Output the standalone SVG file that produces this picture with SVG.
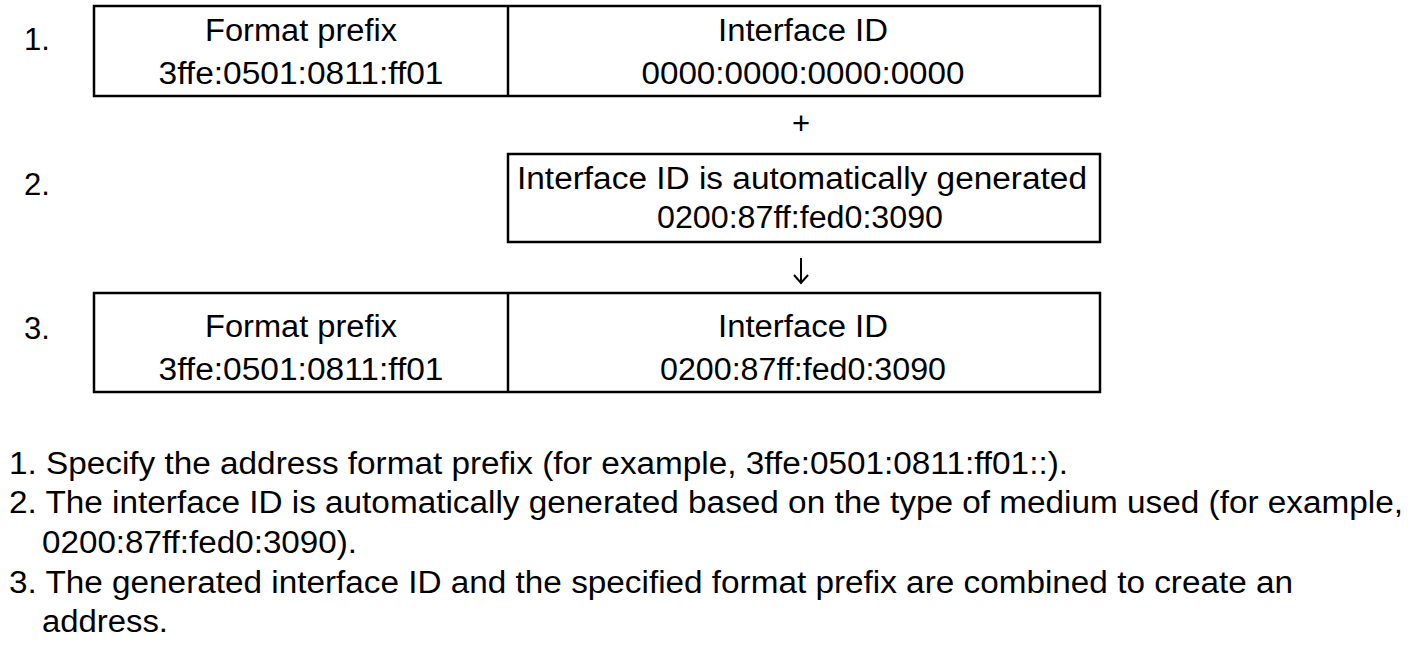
<svg xmlns="http://www.w3.org/2000/svg" width="1416" height="650" viewBox="0 0 1416 650">
<style>
.t{font-family:"Liberation Sans",Arial,sans-serif;font-size:31px;fill:#000}
.c{text-anchor:middle}
.b{fill:#fff;stroke:#000;stroke-width:2.5}
.d{stroke:#000;stroke-width:2.5}
.a{fill:none;stroke:#000;stroke-width:2}
</style>
<rect width="1416" height="650" fill="#fff"/>
<g id="step-labels">
<text class="t" x="24" y="50">1.</text>
<text class="t" x="24" y="195">2.</text>
<text class="t" x="24" y="339">3.</text>
</g>
<g id="row1">
<rect class="b" x="94" y="6" width="1006" height="90"/>
<line class="d" x1="508" y1="6" x2="508" y2="96"/>
<text class="t c" x="301" y="41" textLength="192" lengthAdjust="spacingAndGlyphs">Format prefix</text>
<text class="t c" x="301" y="84" textLength="285" lengthAdjust="spacingAndGlyphs">3ffe:0501:0811:ff01</text>
<text class="t c" x="803" y="41" textLength="170" lengthAdjust="spacingAndGlyphs">Interface ID</text>
<text class="t c" x="803" y="84" textLength="323" lengthAdjust="spacingAndGlyphs">0000:0000:0000:0000</text>
</g>
<g id="plus"><text class="t c" x="801" y="134">+</text></g>
<g id="row2">
<rect class="b" x="508" y="154" width="592" height="88"/>
<text class="t c" x="802" y="189" textLength="570" lengthAdjust="spacingAndGlyphs">Interface ID is automatically generated</text>
<text class="t c" x="800" y="228" textLength="286" lengthAdjust="spacingAndGlyphs">0200:87ff:fed0:3090</text>
</g>
<g id="connectors">
<line class="a" x1="801" y1="258" x2="801" y2="283"/>
<polyline class="a" points="794,275 801,283 808,275"/>
</g>
<g id="row3">
<rect class="b" x="94" y="293" width="1006" height="99"/>
<line class="d" x1="508" y1="293" x2="508" y2="392"/>
<text class="t c" x="301" y="337" textLength="192" lengthAdjust="spacingAndGlyphs">Format prefix</text>
<text class="t c" x="301" y="380" textLength="285" lengthAdjust="spacingAndGlyphs">3ffe:0501:0811:ff01</text>
<text class="t c" x="803" y="337" textLength="170" lengthAdjust="spacingAndGlyphs">Interface ID</text>
<text class="t c" x="803" y="380" textLength="286" lengthAdjust="spacingAndGlyphs">0200:87ff:fed0:3090</text>
</g>
<g id="notes">
<text class="t" x="9" y="474" textLength="1059" lengthAdjust="spacingAndGlyphs">1. Specify the address format prefix (for example, 3ffe:0501:0811:ff01::).</text>
<text class="t" x="9" y="513" textLength="1394" lengthAdjust="spacingAndGlyphs">2. The interface ID is automatically generated based on the type of medium used (for example,</text>
<text class="t" x="42" y="553" textLength="315" lengthAdjust="spacingAndGlyphs">0200:87ff:fed0:3090).</text>
<text class="t" x="9" y="593" textLength="1284" lengthAdjust="spacingAndGlyphs">3. The generated interface ID and the specified format prefix are combined to create an</text>
<text class="t" x="42" y="632" textLength="126" lengthAdjust="spacingAndGlyphs">address.</text>
</g>
</svg>
